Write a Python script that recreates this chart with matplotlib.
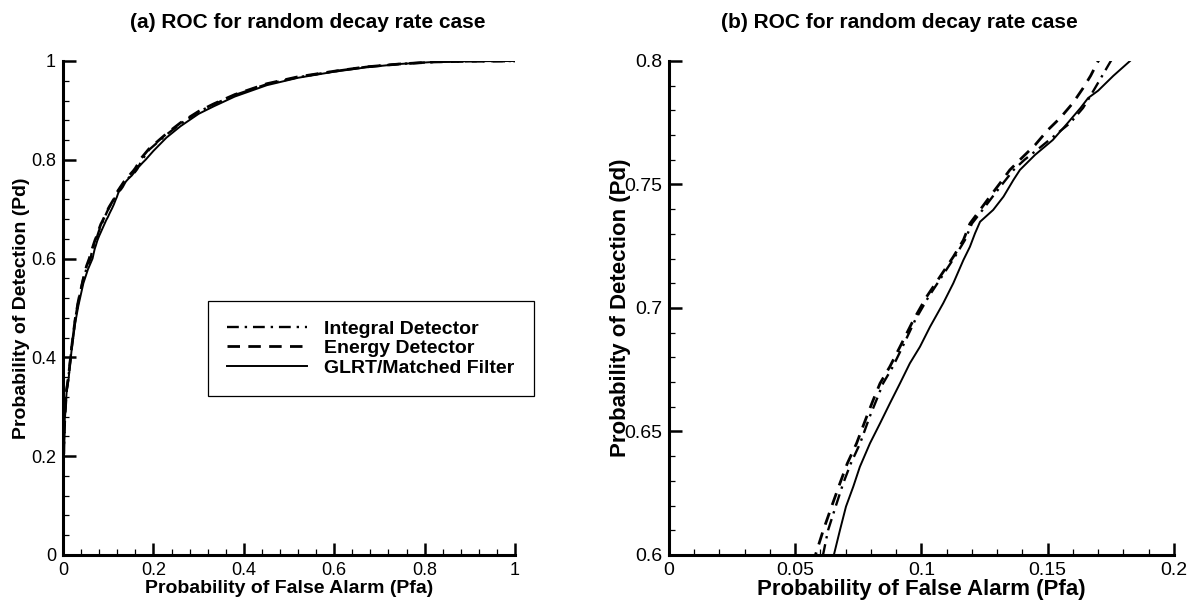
import matplotlib
matplotlib.use("Agg")
import matplotlib.pyplot as plt
from matplotlib.ticker import MultipleLocator, FuncFormatter

plt.rcParams['font.family'] = ['Liberation Sans', 'DejaVu Sans']

# ROC data (Pfa, Pd)
glrt_pfa = [0, 0.002, 0.004, 0.008, 0.012, 0.019, 0.027, 0.034, 0.045, 0.055,
            0.0653, 0.0677, 0.0701, 0.0730, 0.0756, 0.0796, 0.0836, 0.0875, 0.0915, 0.0954,
            0.0994, 0.1034, 0.1086, 0.1126, 0.1166, 0.1192, 0.1212, 0.1232, 0.1284, 0.1325,
            0.1364, 0.1390, 0.145, 0.152, 0.158, 0.163, 0.166, 0.170, 0.176, 0.1826,
            0.20, 0.229, 0.26, 0.30, 0.333, 0.38, 0.451, 0.52, 0.598, 0.67,
            0.746, 0.82, 0.9, 1.0]
glrt_pd = [0.12, 0.22, 0.28, 0.33, 0.354, 0.415, 0.47, 0.505, 0.55, 0.578,
           0.600, 0.610, 0.6196, 0.6277, 0.6357, 0.6452, 0.6533, 0.6614, 0.6695, 0.6776,
           0.6843, 0.6924, 0.7019, 0.7100, 0.7194, 0.7248, 0.7302, 0.7349, 0.7397, 0.7451,
           0.7518, 0.7559, 0.762, 0.768, 0.775, 0.781, 0.785, 0.788, 0.794, 0.800,
           0.818, 0.845, 0.868, 0.893, 0.908, 0.928, 0.951, 0.966, 0.978, 0.987,
           0.994, 0.998, 0.9995, 1.0]

energy_pfa = [0, 0.002, 0.004, 0.008, 0.012, 0.019, 0.027, 0.034, 0.045, 0.052,
              0.058, 0.0611, 0.0644, 0.0677, 0.0706, 0.0743, 0.0783, 0.0809, 0.0836, 0.0875,
              0.0915, 0.0968, 0.1020, 0.1073, 0.1126, 0.1166, 0.1192, 0.1232, 0.1271, 0.1311,
              0.1350, 0.1390, 0.145, 0.150, 0.155, 0.160, 0.164, 0.167, 0.170,
              0.19, 0.229, 0.26, 0.30, 0.333, 0.38, 0.451, 0.52, 0.598, 0.67,
              0.746, 0.82, 0.9, 1.0]
energy_pd = [0.12, 0.22, 0.28, 0.335, 0.36, 0.42, 0.478, 0.515, 0.56, 0.585,
             0.600, 0.610, 0.6196, 0.629, 0.637, 0.6452, 0.656, 0.6628, 0.6695, 0.6763,
             0.6843, 0.6951, 0.7045, 0.7126, 0.7207, 0.7275, 0.7342, 0.7397, 0.7451, 0.7505,
             0.7559, 0.7600, 0.766, 0.772, 0.777, 0.783, 0.789, 0.794, 0.800,
             0.822, 0.853, 0.875, 0.898, 0.913, 0.932, 0.954, 0.968, 0.979, 0.988,
             0.994, 0.998, 0.9995, 1.0]

integral_pfa = [0, 0.002, 0.004, 0.008, 0.012, 0.019, 0.027, 0.034, 0.045, 0.054,
                0.061, 0.063, 0.0660, 0.0690, 0.0720, 0.0757, 0.0795, 0.0822, 0.0848, 0.0887,
                0.0925, 0.0975, 0.1028, 0.1080, 0.1132, 0.1172, 0.1200, 0.1242, 0.1282, 0.1323,
                0.1365, 0.1408, 0.147, 0.153, 0.159, 0.164, 0.167, 0.171, 0.175,
                0.19, 0.229, 0.26, 0.30, 0.333, 0.38, 0.451, 0.52, 0.598, 0.67,
                0.746, 0.82, 0.9, 1.0]
integral_pd = [0.12, 0.22, 0.28, 0.335, 0.36, 0.42, 0.478, 0.515, 0.56, 0.585,
               0.600, 0.610, 0.6196, 0.629, 0.637, 0.6452, 0.656, 0.6628, 0.6695, 0.6763,
               0.6843, 0.6951, 0.7045, 0.7126, 0.7207, 0.7275, 0.7342, 0.7397, 0.7451, 0.7505,
               0.7559, 0.7600, 0.765, 0.770, 0.775, 0.781, 0.786, 0.793, 0.800,
               0.820, 0.851, 0.873, 0.897, 0.912, 0.931, 0.953, 0.967, 0.979, 0.988,
               0.994, 0.998, 0.9995, 1.0]

fmt = FuncFormatter(lambda v, p: '%g' % round(v, 4))

fig = plt.figure(figsize=(11.87, 6.02), dpi=100)
ax1 = fig.add_axes([0.0531, 0.0781, 0.3808, 0.8206])
ax2 = fig.add_axes([0.5636, 0.0781, 0.4254, 0.8206])


def draw(ax):
    ax.plot(integral_pfa, integral_pd, color='k', lw=1.7, dashes=(5, 2.5, 1, 2.5),
            label='Integral Detector')
    ax.plot(energy_pfa, energy_pd, color='k', lw=2.0, dashes=(4.5, 3),
            label='Energy Detector')
    ax.plot(glrt_pfa, glrt_pd, color='k', lw=1.4, label='GLRT/Matched Filter')
    for s in ['top', 'right']:
        ax.spines[s].set_visible(False)
    for s in ['left', 'bottom']:
        ax.spines[s].set_linewidth(2.2)
    ax.tick_params(which='major', direction='in', length=9, width=1.8, pad=5)
    ax.tick_params(which='minor', direction='in', length=4.5, width=0.9)
    ax.xaxis.set_major_formatter(fmt)
    ax.yaxis.set_major_formatter(fmt)


# (a) full ROC
draw(ax1)
ax1.set_xlim(0, 1)
ax1.set_ylim(0, 1)
ax1.xaxis.set_major_locator(MultipleLocator(0.2))
ax1.xaxis.set_minor_locator(MultipleLocator(0.04))
ax1.yaxis.set_major_locator(MultipleLocator(0.2))
ax1.yaxis.set_minor_locator(MultipleLocator(0.04))
ax1.tick_params(labelsize=13)
ax1.set_xlabel('Probability of False Alarm (Pfa)', fontsize=14, fontweight='bold', labelpad=1)
ax1.set_ylabel('Probability of Detection (Pd)', fontsize=14, fontweight='bold')
ax1.yaxis.set_label_coords(-0.072, 0.5)
leg = ax1.legend(loc='center', bbox_to_anchor=(0.681, 0.418),
                 prop={'weight': 'bold', 'size': 14}, handlelength=4.1,
                 handletextpad=0.9, borderpad=1.0, labelspacing=0.1,
                 fancybox=False, framealpha=1, edgecolor='k')
leg.get_frame().set_linewidth(0.9)

# (b) zoomed ROC
draw(ax2)
ax2.set_xlim(0, 0.2)
ax2.set_ylim(0.6, 0.8)
ax2.xaxis.set_major_locator(MultipleLocator(0.05))
ax2.xaxis.set_minor_locator(MultipleLocator(0.01))
ax2.yaxis.set_major_locator(MultipleLocator(0.05))
ax2.yaxis.set_minor_locator(MultipleLocator(0.01))
ax2.tick_params(labelsize=14)
ax2.set_xlabel('Probability of False Alarm (Pfa)', fontsize=16, fontweight='bold', labelpad=0)
ax2.set_ylabel('Probability of Detection (Pd)', fontsize=16, fontweight='bold')
ax2.yaxis.set_label_coords(-0.076, 0.5)

fig.text(0.259, 0.962, '(a) ROC for random decay rate case', fontsize=15,
         fontweight='bold', ha='center', va='center')
fig.text(0.758, 0.962, '(b) ROC for random decay rate case', fontsize=15,
         fontweight='bold', ha='center', va='center')

fig.savefig('out.png', dpi=100)
